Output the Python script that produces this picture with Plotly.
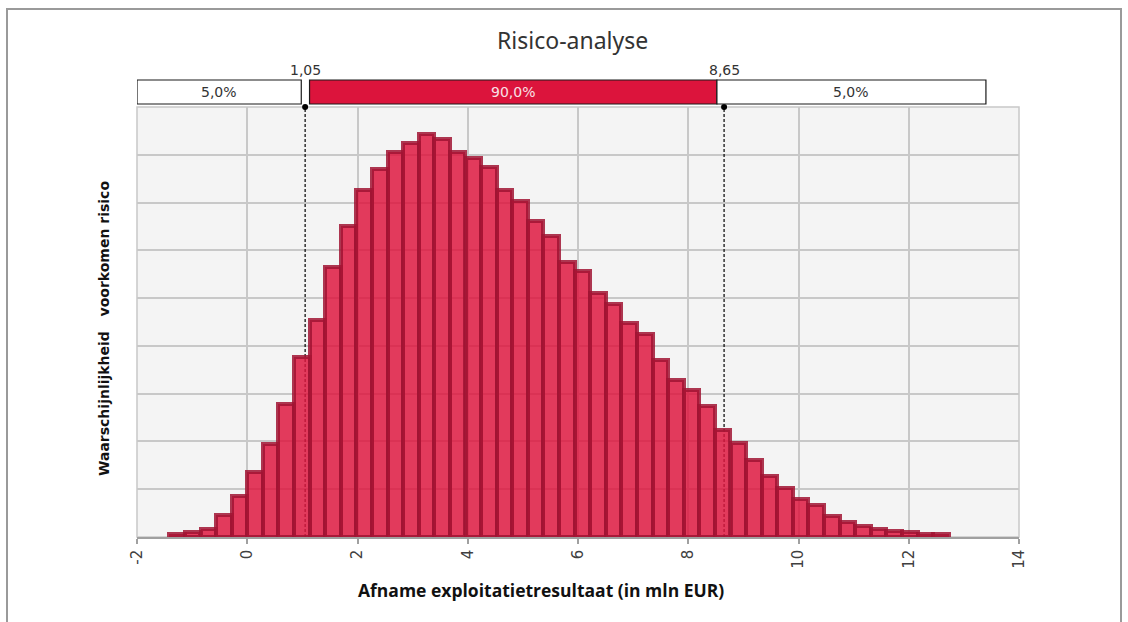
import plotly.graph_objects as go

# ---------------- data ----------------
bin_centers = [-1.273, -0.990, -0.707, -0.424, -0.141, 0.141, 0.424, 0.707, 0.990, 1.273,
               1.555, 1.838, 2.121, 2.404, 2.687, 2.969, 3.252, 3.535, 3.818, 4.101,
               4.383, 4.666, 4.949, 5.232, 5.515, 5.797, 6.080, 6.363, 6.646, 6.929,
               7.211, 7.494, 7.777, 8.060, 8.343, 8.625, 8.908, 9.191, 9.474, 9.757,
               10.039, 10.322, 10.605, 10.888, 11.171, 11.453, 11.736, 12.019, 12.302, 12.585]
frequency = [0.07, 0.10, 0.16, 0.47, 0.86, 1.36, 1.95, 2.79, 3.76, 4.55,
             5.65, 6.51, 7.26, 7.71, 8.06, 8.25, 8.44, 8.32, 8.06, 7.93,
             7.74, 7.26, 7.03, 6.61, 6.29, 5.75, 5.56, 5.11, 4.88, 4.47,
             4.24, 3.70, 3.28, 3.07, 2.74, 2.24, 1.97, 1.62, 1.27, 1.02,
             0.79, 0.67, 0.45, 0.32, 0.23, 0.17, 0.13, 0.10, 0.07, 0.07]
p_low, p_high = 1.05, 8.65
p_low_label, p_high_label = "1,05", "8,65"
band_labels = ["5,0%", "90,0%", "5,0%"]
x_tickvals = [-2, 0, 2, 4, 6, 8, 10, 12, 14]
x_ticktext = ["-2", "0", "2", "4", "6", "8", "10", "12", "14"]

title = "Risico-analyse"
x_title = "Afname exploitatietresultaat (in mln EUR)"
y_title = "Waarschijnlijkheid   voorkomen risico"

# ---------------- layout geometry (pixels) ----------------
FW, FH = 1128, 622
L, R, T, B = 137, 1019, 107, 537
PW, PH = R - L, B - T


def px(xp):
    return (xp - L) / PW


def py(yp):
    return (B - yp) / PH


fig = go.Figure()

fig.add_trace(go.Bar(
    x=bin_centers, y=frequency,
    marker=dict(color="rgba(222,22,62,0.84)",
                line=dict(color="rgba(160,20,50,0.85)", width=4)),
    hoverinfo="x+y", showlegend=False,
))

# dots at top of percentile lines
fig.add_trace(go.Scatter(
    x=[p_low, p_high], y=[9, 9], mode="markers",
    marker=dict(color="black", size=6), cliponaxis=False,
    showlegend=False, hoverinfo="skip",
))

shapes = []
# outer frame
shapes.append(dict(type="rect", xref="paper", yref="paper",
                   x0=px(7), x1=px(1121), y0=py(640), y1=py(9),
                   line=dict(color="#9a9a9a", width=2), layer="below"))
# plot frame
shapes.append(dict(type="rect", xref="paper", yref="paper",
                   x0=0, x1=1, y0=0, y1=1,
                   line=dict(color="#c8c8c8", width=1.5), layer="between"))
# percentile dashed lines
for pv in (p_low, p_high):
    shapes.append(dict(type="line", xref="x", yref="y", x0=pv, x1=pv, y0=0, y1=9,
                       line=dict(color="black", width=1.2, dash="3px,2px"), layer="between"))

# percentile band boxes
by0, by1 = py(104), py(80)
box_right = 13.4
shapes.append(dict(type="rect", xref="x", yref="paper", x0=-2, x1=p_low - 0.07,
                   y0=by0, y1=by1, fillcolor="white", line=dict(color="#1a1a1a", width=1.2)))
shapes.append(dict(type="rect", xref="x", yref="paper", x0=p_low + 0.08, x1=p_high - 0.13,
                   y0=by0, y1=by1, fillcolor="#dc143c", line=dict(color="#1a1a1a", width=1.2)))
shapes.append(dict(type="rect", xref="x", yref="paper", x0=p_high - 0.13, x1=box_right,
                   y0=by0, y1=by1, fillcolor="white", line=dict(color="#1a1a1a", width=1.2)))

annotations = []
band_font = dict(family="DejaVu Sans", size=14, color="#333333")


def ann(**kw):
    kw.setdefault("showarrow", False)
    kw.setdefault("xanchor", "center")
    kw.setdefault("yanchor", "middle")
    annotations.append(kw)


ymid = (by0 + by1) / 2
ann(x=(-2 + p_low - 0.07) / 2, y=ymid, xref="x", yref="paper", text=band_labels[0], font=band_font)
ann(x=(p_low + p_high - 0.05) / 2, y=ymid, xref="x", yref="paper", text=band_labels[1],
    font=dict(family="DejaVu Sans", size=14, color="#f8e0e6"))
ann(x=(p_high - 0.13 + box_right) / 2, y=ymid, xref="x", yref="paper", text=band_labels[2], font=band_font)
for pv, lab in ((p_low, p_low_label), (p_high, p_high_label)):
    ann(x=pv, y=py(70), xref="x", yref="paper", text=lab, font=band_font)

ann(x=px(572), y=py(40), xref="paper", yref="paper", text=title,
    font=dict(family="Noto Sans", size=23, color="#333333"))
ann(x=px(541), y=py(590), xref="paper", yref="paper", text=x_title,
    font=dict(family="Open Sans", size=17.5, color="#111111", weight="bold"))
ann(x=px(104), y=py(329), xref="paper", yref="paper", text=y_title, textangle=-90,
    font=dict(family="DejaVu Sans", size=14, color="#111111", weight="bold"))

fig.update_layout(
    width=FW, height=FH,
    margin=dict(l=L, r=FW - R, t=T, b=FH - B, pad=0),
    paper_bgcolor="white", plot_bgcolor="#f4f4f4",
    bargap=0,
    shapes=shapes, annotations=annotations,
    xaxis=dict(range=[-2, 14], tickvals=x_tickvals, ticktext=x_ticktext, tickangle=-90,
               showgrid=True, gridcolor="#c8c8c8", gridwidth=1.5, zeroline=False,
               showline=True, linecolor="#a0a0a0", linewidth=1.5,
               ticks="outside", ticklen=5, tickcolor="#a0a0a0", tickwidth=1.5,
               tickfont=dict(family="DejaVu Sans", size=15, color="#404040"), fixedrange=True),
    yaxis=dict(range=[0, 9], dtick=1, tick0=0, showticklabels=False,
               showgrid=True, gridcolor="#c8c8c8", gridwidth=1.5, zeroline=False,
               showline=False, fixedrange=True),
    font=dict(family="DejaVu Sans"),
)

fig.write_html("out.html", config={"displayModeBar": False},
               post_script="document.body.style.margin='0';document.body.style.overflow='hidden';")
